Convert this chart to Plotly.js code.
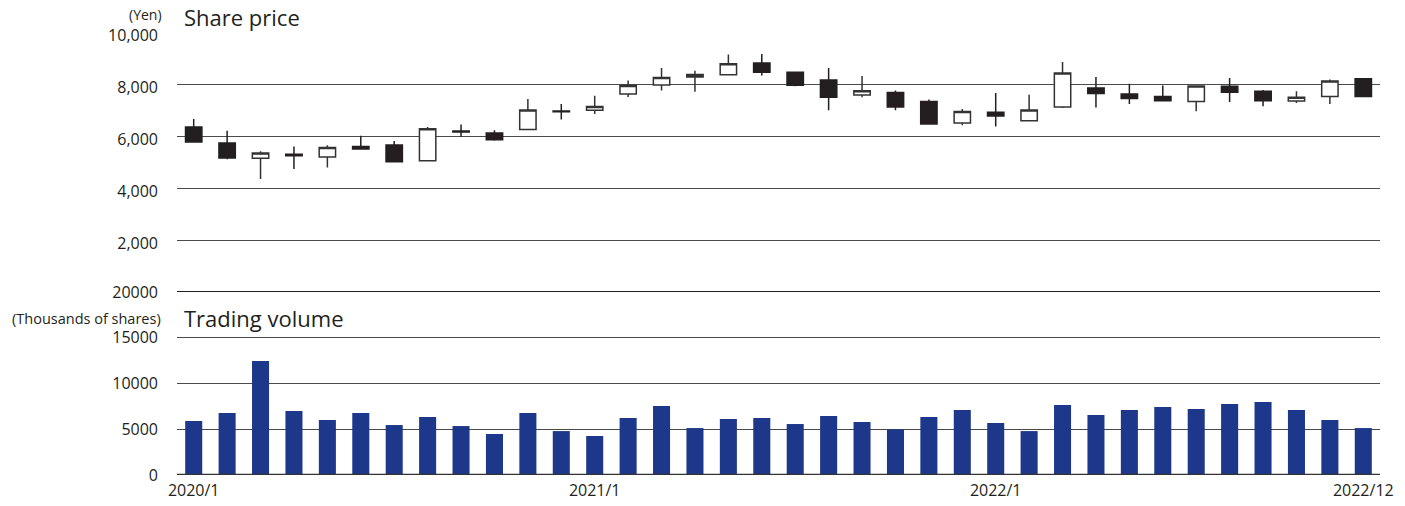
<!DOCTYPE html>
<html>
<head>
<meta charset="utf-8">
<script src="https://cdn.plot.ly/plotly-3.0.1.min.js"></script>
<style>html,body{margin:0;padding:0;background:#fff;}#chart{width:1405px;height:506px;}</style>
</head>
<body>
<div id="chart"></div>
<script>
var months = ["2020/1","2020/2","2020/3","2020/4","2020/5","2020/6","2020/7","2020/8","2020/9","2020/10","2020/11","2020/12",
              "2021/1","2021/2","2021/3","2021/4","2021/5","2021/6","2021/7","2021/8","2021/9","2021/10","2021/11","2021/12",
              "2022/1","2022/2","2022/3","2022/4","2022/5","2022/6","2022/7","2022/8","2022/9","2022/10","2022/11","2022/12"];
var openPrice  = [6350,5730,5140,5300,5190,5600,5650,5050,6190,6120,6250,6960,6990,7620,7960,8270,8360,8810,8450,8150,7580,7670,7330,6500,6910,6590,7120,7850,7620,7520,7330,7910,7720,7350,7520,8200];
var highPrice  = [6650,6200,5410,5600,5640,6010,5810,6350,6440,6220,7420,7230,7550,8130,8620,8510,9130,9150,8470,8620,8310,7750,7400,7040,7650,7590,8850,8270,8010,7940,7940,8230,7770,7720,8170,8210];
var lowPrice   = [5750,5110,4350,4730,4790,5480,5000,5020,5970,5820,6250,6630,6850,7500,7750,7700,8350,8330,7910,6990,7490,6990,6460,6410,6370,6590,7080,7100,7230,7360,6950,7310,7140,7270,7230,7490];
var closePrice = [5770,5150,5350,5240,5560,5500,5010,6280,6150,5860,7000,6930,7130,7940,8250,8370,8780,8450,7950,7490,7740,7120,6460,6940,6770,7000,8420,7630,7440,7360,7920,7680,7360,7490,8120,7520];
var volume     = [5900,6770,12450,6990,6000,6770,5460,6330,5350,4480,6770,4800,4260,6220,7530,5130,6110,6220,5570,6440,5790,4990,6330,7100,5680,4800,7640,6550,7100,7420,7210,7750,7970,7100,6000,5130];
var xTickLabels = ["2020/1","2021/1","2022/1","2022/12"];
var priceTicks = [2000,4000,6000,8000,10000];
var volumeTicks = [0,5000,10000,15000,20000];

var FONT = "Open Sans, Noto Sans, sans-serif";
var TXT = "#231f20";

var candle = {
  type: "candlestick",
  x: months, open: openPrice, high: highPrice, low: lowPrice, close: closePrice,
  xaxis: "x", yaxis: "y",
  whiskerwidth: 0,
  increasing: {line: {color: "#333333", width: 1.5}, fillcolor: "#ffffff"},
  decreasing: {line: {color: "#231f20", width: 1.5}, fillcolor: "#231f20"},
  hoverinfo: "skip", showlegend: false
};
var bars = {
  type: "bar", x: months, y: volume, xaxis: "x", yaxis: "y2",
  marker: {color: "#1d388b"}, hoverinfo: "skip", showlegend: false
};

var split = (475 - 292) / 443;
var layout = {
  width: 1405, height: 506,
  margin: {l: 177, r: 25, t: 32, b: 31},
  paper_bgcolor: "#fff", plot_bgcolor: "rgba(0,0,0,0)",
  font: {family: FONT, color: TXT, size: 16},
  showlegend: false, bargap: 0.49, boxgap: 0.3,
  xaxis: {type: "category", anchor: "y2", range: [-0.5, 35.5], tickmode: "array", tickvals: xTickLabels, ticktext: xTickLabels,
          showgrid: false, zeroline: false, showline: false, ticks: "", ticklabelstandoff: 4,
          tickfont: {size: 16, color: TXT}, rangeslider: {visible: false}, fixedrange: true},
  yaxis: {domain: [split, 1], anchor: "x", range: [0, 10000], tickmode: "array", tickvals: priceTicks, tickformat: ",",
          showgrid: true, gridcolor: "#4a4a4a", gridwidth: 1, zeroline: false, showline: false, ticks: "",
          ticklabelstandoff: 18, ticklabelshift: 3, tickfont: {size: 16, color: TXT}, fixedrange: true},
  yaxis2: {domain: [0, split], anchor: "x", range: [0, 20000], tickmode: "array", tickvals: volumeTicks, tickformat: "d",
          showgrid: true, gridcolor: "#4a4a4a", gridwidth: 1, zeroline: false, showline: false, ticks: "",
          ticklabelstandoff: 18, tickfont: {size: 16, color: TXT}, fixedrange: true},
  shapes: [
    {type: "line", xref: "paper", x0: 0, x1: 1, yref: "y", y0: 0, y1: 0, line: {color: "#231f20", width: 2}},
    {type: "line", xref: "paper", x0: 0, x1: 1, yref: "y2", y0: 0, y1: 0, line: {color: "#333333", width: 2.5}}
  ],
  annotations: [
    {text: "(Yen)", xref: "paper", yref: "paper", x: (164 - 177) / 1203, y: (475 - 15) / 443, xanchor: "right", yanchor: "middle", showarrow: false, font: {size: 14, color: TXT}},
    {text: "Share price", xref: "paper", yref: "paper", x: (182 - 177) / 1203, y: (475 - 17) / 443, xanchor: "left", yanchor: "middle", showarrow: false, font: {size: 22, color: TXT}},
    {text: "(Thousands of shares)", xref: "paper", yref: "paper", x: (163 - 177) / 1203, y: (475 - 318) / 443, xanchor: "right", yanchor: "middle", showarrow: false, font: {size: 14.5, color: TXT}},
    {text: "Trading volume", xref: "paper", yref: "paper", x: (182 - 177) / 1203, y: (475 - 318) / 443, xanchor: "left", yanchor: "middle", showarrow: false, font: {size: 22, color: TXT}}
  ]
};
Plotly.newPlot("chart", [bars, candle], layout, {displayModeBar: false, staticPlot: true});
</script>
</body>
</html>
